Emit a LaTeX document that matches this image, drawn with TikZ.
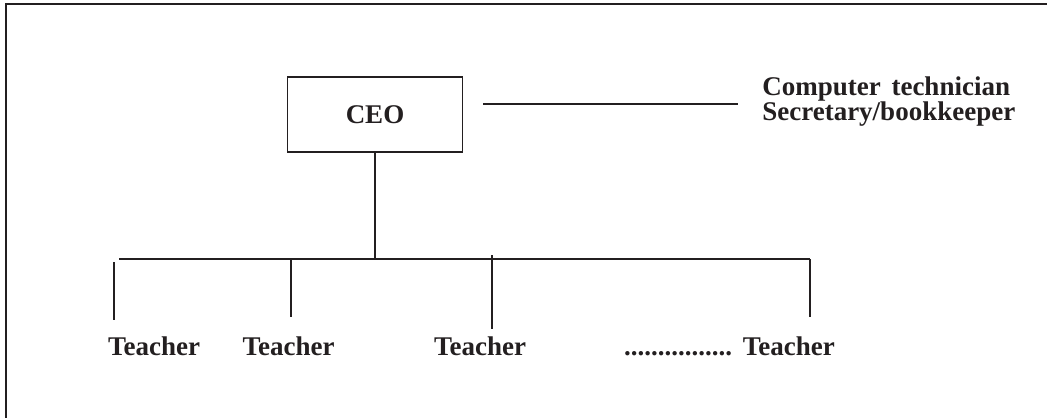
\documentclass[tikz,border=0pt]{standalone}
\usepackage{fontspec}
\setmainfont{Liberation Serif}
\usepackage{tikz}
\usetikzlibrary{positioning}
\usetikzlibrary{calc}
\definecolor{ink}{HTML}{231F20}
\tikzstyle{box}=[rectangle,draw=ink,line width=1.25pt,minimum width=4.375cm,minimum height=1.875cm]
\tikzstyle{link}=[draw=ink,line width=1.25pt]
\tikzstyle{frame}=[draw=ink,line width=1.6pt]
\tikzstyle{lbl}=[text=ink,inner sep=0pt,font=\fontsize{19.2}{17.8}\selectfont\bfseries]

\begin{document}
\begin{tikzpicture}

  \def\u{0.025};
  \useasboundingbox (0,0) rectangle (1047*\u,-418*\u);

  % frame, top and left side only
  \coordinate (fTR) at (1047*\u,-4.3*\u);
  \coordinate (fTL) at (6.3*\u,-4.3*\u);
  \coordinate (fBL) at (6.3*\u,-418*\u);
  \path[frame] (fTR) -- (fTL) -- (fBL);

  \node[box,lbl] (ceo) at (375*\u,-114.5*\u) {CEO};

  \foreach \x/\y/\name/\label in {762/95/staff1/{Computer\hspace{0.4em}technician}, 762/120/staff2/{Secretary/bookkeeper}}
          \node[lbl,anchor=base west] (\name) at (\x*\u,-\y*\u) {\label};

  \foreach \x/\name/\label in {154/t1/Teacher, 288.5/t2/Teacher, 480/t3/Teacher, 729.5/t4/{................\hspace{0.4em}Teacher}}
          \node[lbl,anchor=base] (\name) at (\x*\u,-355*\u) {\label};

  % staff line
  \coordinate (sA) at (483*\u,-104*\u);
  \coordinate (sB) at (738*\u,-104*\u);
  \path[link] (sA) -- (sB);

  % tree
  \coordinate (busL) at (119*\u,-259*\u);
  \coordinate (busR) at (810*\u,-259*\u);
  \path[link] (ceo.south) -- (ceo.south |- busL);
  \path[link] (busL) -- (busR);

  \foreach \x/\ya/\yb/\name in {114/262/320/d1, 291/259/317/d2, 492/255/329/d3, 810/259/317/d4}
   {
          \coordinate (\name top) at (\x*\u,-\ya*\u);
          \coordinate (\name bot) at (\x*\u,-\yb*\u);
          \path[link] (\name top) -- (\name bot);
   }

\end{tikzpicture}
\end{document}
